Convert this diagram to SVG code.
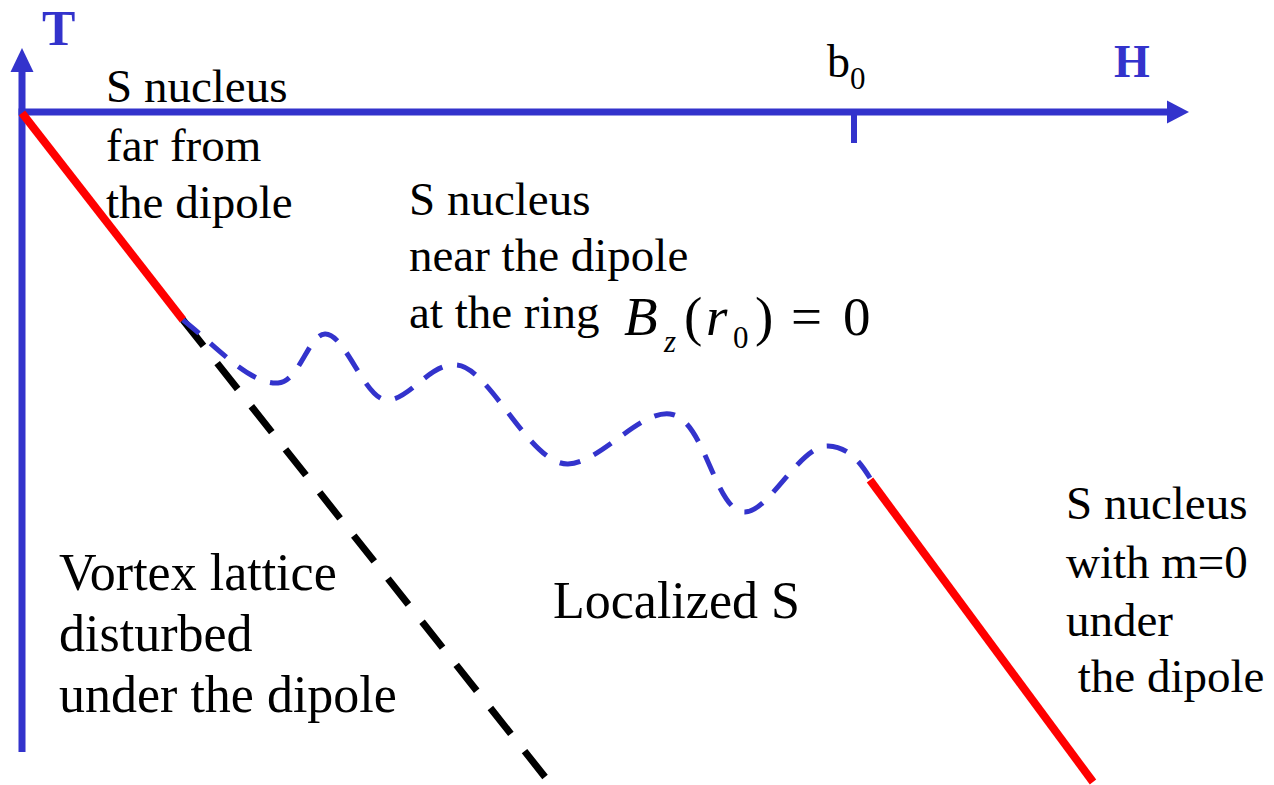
<svg xmlns="http://www.w3.org/2000/svg" width="1274" height="785" viewBox="0 0 1274 785">
<defs>
<style>
.t{font-family:'Liberation Serif','Times New Roman',Times,serif;fill:#000}
.m{font-size:47px}
.L{font-size:52px}
.f{font-size:55px}
.s{font-size:31px}
.i{font-style:italic}
.ax{font-family:'Liberation Serif','Times New Roman',Times,serif;font-weight:bold;fill:#3333cc}
.axis{stroke:#3333cc;stroke-width:7;fill:none}
.red{stroke:#ff0000;stroke-width:8;fill:none}
</style>
</defs>
<rect width="1274" height="785" fill="#fff"/>
<g id="axes">
<line class="axis" x1="22" y1="752" x2="22" y2="68"/>
<polygon points="22,48 10.5,72 33.5,72" fill="#3333cc"/>
<line class="axis" x1="18.5" y1="112" x2="1170" y2="112"/>
<polygon points="1189,112 1167,100.5 1167,123.5" fill="#3333cc"/>
<line x1="854" y1="112" x2="854" y2="143" stroke="#3333cc" stroke-width="6"/>
<text class="ax" x="42" y="45" font-size="50">T</text>
<text class="ax" x="1114" y="77" font-size="46">H</text>
<text class="t" x="827" y="77" font-size="46">b<tspan font-size="31" dy="12">0</tspan></text>
</g>
<g id="connectors">
<line class="red" x1="22" y1="113" x2="183" y2="320"/>
<line x1="183" y1="320" x2="549" y2="782" stroke="#000" stroke-width="7" stroke-dasharray="33 22"/>
<path d="M183,320 C215,345 250,385 278,383 C300,381 308,335 325,334 C345,333 365,400 387,400 C410,400 430,362 457,365 C490,368 530,465 568,464 C600,463 640,410 670,414 C705,418 715,513 745,512 C770,511 800,445 828,446 C850,447 862,465 870,478" fill="none" stroke="#3333cc" stroke-width="5" stroke-dasharray="21 15"/>
<line class="red" x1="870" y1="480" x2="1093" y2="782"/>
</g>
<g id="label-far">
<text class="t m" x="106" y="102">S nucleus</text>
<text class="t m" x="106" y="161">far from</text>
<text class="t m" x="106" y="218">the dipole</text>
</g>
<g id="label-near">
<text class="t m" x="409" y="215">S nucleus</text>
<text class="t m" x="409" y="271">near the dipole</text>
<text class="t m" x="409" y="328">at the ring</text>
<g id="formula">
<text class="t f i" x="624" y="335">B</text>
<text class="t s i" x="664" y="352">z</text>
<text class="t f" x="684" y="335">(</text>
<text class="t f i" x="706" y="335">r</text>
<text class="t s" x="733" y="348">0</text>
<text class="t f" x="755" y="335">)</text>
<text class="t f" x="791" y="335">=</text>
<text class="t f" x="843" y="335">0</text>
</g>
</g>
<g id="label-vortex">
<text class="t L" x="59" y="590">Vortex lattice</text>
<text class="t L" x="59" y="651">disturbed</text>
<text class="t L" x="59" y="712">under the dipole</text>
</g>
<g id="label-localized">
<text class="t L" x="553" y="618">Localized S</text>
</g>
<g id="label-m0">
<text class="t m" x="1066" y="519">S nucleus</text>
<text class="t m" x="1066" y="578">with m=0</text>
<text class="t m" x="1066" y="636">under</text>
<text class="t m" x="1066" y="692" xml:space="preserve"> the dipole</text>
</g>
</svg>
